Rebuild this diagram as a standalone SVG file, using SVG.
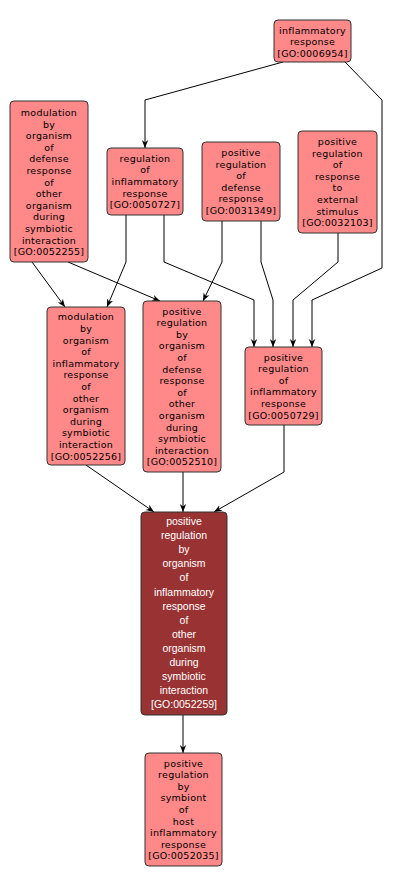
<svg xmlns="http://www.w3.org/2000/svg" width="406" height="889" viewBox="0 0 406 889">
<defs>
<marker id="arr" viewBox="0 0 10 10" markerUnits="userSpaceOnUse" markerWidth="8" markerHeight="8" refX="10" refY="5" orient="auto">
<path d="M0,1 L10,5 L0,9 L3,5 z" fill="#000"/>
</marker>
<style>
.n rect{fill:#ff8888;stroke:#333;stroke-width:1}
.d rect{fill:#993333;stroke:#333;stroke-width:1}
.n text{font-family:"DejaVu Sans",sans-serif;font-size:9.5px;letter-spacing:0.25px;fill:#000;text-anchor:middle}
.d text{font-family:"Liberation Sans",Arial,sans-serif;font-size:10.5px;fill:#fff;text-anchor:middle}
.e path{fill:none;stroke:#000;stroke-width:1;marker-end:url(#arr)}
</style>
</defs>
<rect width="406" height="889" fill="#fff"/>
<g class="e" id="edges">
<path d="M283,62 L145,100 L145,148"/>
<path d="M345,62 L382,100 L382,268 L312,300 L312,347"/>
<path d="M32,262 L65,307"/>
<path d="M68,262 L160,301"/>
<path d="M126,215 L126,262 L107,307"/>
<path d="M164,215 L164,262 L254,300 L254,347"/>
<path d="M222,221 L222,262 L203,301"/>
<path d="M261,221 L261,262 L273,300 L273,347"/>
<path d="M338,233 L338,262 L293,300 L293,347"/>
<path d="M86,465 L154,512"/>
<path d="M183,472 L183,512"/>
<path d="M284,425 L284,472 L214,512"/>
<path d="M183,715 L183,753"/>
</g>
<g class="n" id="GO0006954">
<rect x="274" y="20" width="77" height="42" rx="4"/>
<text x="312.5" y="33.5">inflammatory</text>
<text x="312.5" y="45.1">response</text>
<text x="312.5" y="56.7">[GO:0006954]</text>
</g>
<g class="n" id="GO0052255">
<rect x="10" y="101" width="78" height="161" rx="4"/>
<text x="49" y="116">modulation</text>
<text x="49" y="127.6">by</text>
<text x="49" y="139.2">organism</text>
<text x="49" y="150.8">of</text>
<text x="49" y="162.4">defense</text>
<text x="49" y="174">response</text>
<text x="49" y="185.6">of</text>
<text x="49" y="197.2">other</text>
<text x="49" y="208.8">organism</text>
<text x="49" y="220.4">during</text>
<text x="49" y="232">symbiotic</text>
<text x="49" y="243.6">interaction</text>
<text x="49" y="255.2">[GO:0052255]</text>
</g>
<g class="n" id="GO0050727">
<rect x="107" y="148" width="76" height="67" rx="4"/>
<text x="145" y="161.8">regulation</text>
<text x="145" y="173.4">of</text>
<text x="145" y="185">inflammatory</text>
<text x="145" y="196.6">response</text>
<text x="145" y="208.2">[GO:0050727]</text>
</g>
<g class="n" id="GO0031349">
<rect x="202" y="142" width="78" height="79" rx="4"/>
<text x="241" y="156">positive</text>
<text x="241" y="167.6">regulation</text>
<text x="241" y="179.2">of</text>
<text x="241" y="190.8">defense</text>
<text x="241" y="202.4">response</text>
<text x="241" y="214">[GO:0031349]</text>
</g>
<g class="n" id="GO0032103">
<rect x="298" y="131" width="79" height="102" rx="4"/>
<text x="337.5" y="145">positive</text>
<text x="337.5" y="156.6">regulation</text>
<text x="337.5" y="168.2">of</text>
<text x="337.5" y="179.8">response</text>
<text x="337.5" y="191.4">to</text>
<text x="337.5" y="203">external</text>
<text x="337.5" y="214.6">stimulus</text>
<text x="337.5" y="226.2">[GO:0032103]</text>
</g>
<g class="n" id="GO0052256">
<rect x="47" y="307" width="78" height="158" rx="4"/>
<text x="86" y="320.4">modulation</text>
<text x="86" y="332">by</text>
<text x="86" y="343.6">organism</text>
<text x="86" y="355.2">of</text>
<text x="86" y="366.8">inflammatory</text>
<text x="86" y="378.4">response</text>
<text x="86" y="390">of</text>
<text x="86" y="401.6">other</text>
<text x="86" y="413.2">organism</text>
<text x="86" y="424.8">during</text>
<text x="86" y="436.4">symbiotic</text>
<text x="86" y="448">interaction</text>
<text x="86" y="459.6">[GO:0052256]</text>
</g>
<g class="n" id="GO0052510">
<rect x="143" y="301" width="78" height="171" rx="4"/>
<text x="182" y="314.6">positive</text>
<text x="182" y="326.2">regulation</text>
<text x="182" y="337.8">by</text>
<text x="182" y="349.4">organism</text>
<text x="182" y="361">of</text>
<text x="182" y="372.6">defense</text>
<text x="182" y="384.2">response</text>
<text x="182" y="395.8">of</text>
<text x="182" y="407.4">other</text>
<text x="182" y="419">organism</text>
<text x="182" y="430.6">during</text>
<text x="182" y="442.2">symbiotic</text>
<text x="182" y="453.8">interaction</text>
<text x="182" y="465.4">[GO:0052510]</text>
</g>
<g class="n" id="GO0050729">
<rect x="245" y="347" width="77" height="78" rx="4"/>
<text x="283.5" y="360.5">positive</text>
<text x="283.5" y="372.1">regulation</text>
<text x="283.5" y="383.7">of</text>
<text x="283.5" y="395.3">inflammatory</text>
<text x="283.5" y="406.9">response</text>
<text x="283.5" y="418.5">[GO:0050729]</text>
</g>
<g class="d" id="GO0052259">
<rect x="141" y="512" width="86" height="203" rx="4"/>
<text x="184" y="525">positive</text>
<text x="184" y="539.1">regulation</text>
<text x="184" y="553.2">by</text>
<text x="184" y="567.3">organism</text>
<text x="184" y="581.4">of</text>
<text x="184" y="595.5">inflammatory</text>
<text x="184" y="609.6">response</text>
<text x="184" y="623.7">of</text>
<text x="184" y="637.8">other</text>
<text x="184" y="651.9">organism</text>
<text x="184" y="666">during</text>
<text x="184" y="680.1">symbiotic</text>
<text x="184" y="694.2">interaction</text>
<text x="184" y="708.3">[GO:0052259]</text>
</g>
<g class="n" id="GO0052035">
<rect x="145" y="753" width="77" height="113" rx="4"/>
<text x="183.5" y="766.6">positive</text>
<text x="183.5" y="778.2">regulation</text>
<text x="183.5" y="789.8">by</text>
<text x="183.5" y="801.4">symbiont</text>
<text x="183.5" y="813">of</text>
<text x="183.5" y="824.6">host</text>
<text x="183.5" y="836.2">inflammatory</text>
<text x="183.5" y="847.8">response</text>
<text x="183.5" y="859.4">[GO:0052035]</text>
</g>
</svg>
